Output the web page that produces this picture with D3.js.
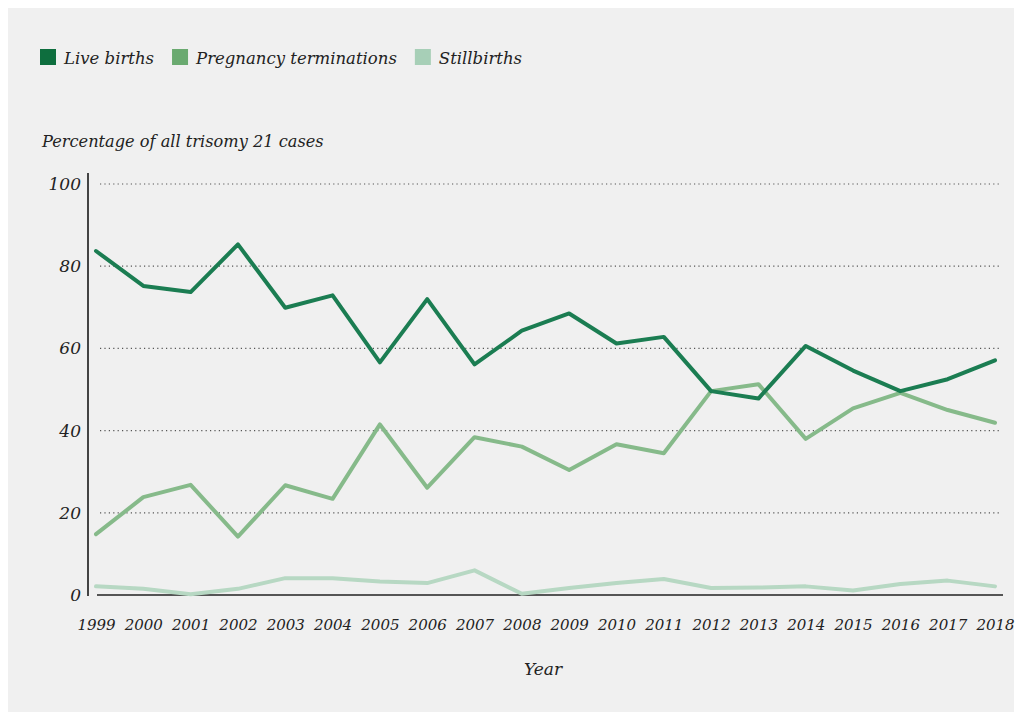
<!DOCTYPE html>
<html>
<head>
<meta charset="utf-8">
<script src="https://cdn.jsdelivr.net/npm/d3@7/dist/d3.min.js"></script>
<style>
  body { margin: 0; background: #ffffff; }
  text { font-family: "DejaVu Serif", serif; font-style: italic; fill: #222; }
</style>
</head>
<body>
<div id="chart"></div>
<script>
// Datos
const years = d3.range(1999, 2019);
const liveBirths = [83.7, 75.2, 73.7, 85.3, 69.9, 72.9, 56.6, 72.0, 56.1, 64.3, 68.5, 61.2, 62.8, 49.6, 47.8, 60.6, 54.6, 49.6, 52.5, 57.1];
const terminations = [14.8, 23.8, 26.8, 14.2, 26.7, 23.4, 41.5, 26.1, 38.4, 36.1, 30.4, 36.7, 34.5, 49.6, 51.3, 38.0, 45.4, 49.2, 45.0, 41.9];
const stillbirths = [2.1, 1.5, 0.2, 1.5, 4.1, 4.1, 3.3, 2.9, 6.0, 0.3, 1.7, 2.9, 3.9, 1.7, 1.8, 2.1, 1.1, 2.7, 3.5, 2.1];
const yTicks = [0, 20, 40, 60, 80, 100];

const series = [
  { name: 'Live births', values: liveBirths, swatch: '#0e6e3e', line: '#1b7d52' },
  { name: 'Pregnancy terminations', values: terminations, swatch: '#6aaa70', line: '#86ba8a' },
  { name: 'Stillbirths', values: stillbirths, swatch: '#a7cfb7', line: '#b7d8c3' }
];

const W = 1021, H = 718;
const margin = { top: 184, right: 26, bottom: 123, left: 96 };
const width = 995 - margin.left, height = 595 - margin.top;

const svg = d3.select('#chart').append('svg')
  .attr('width', W).attr('height', H);

// Fondo
svg.append('rect')
  .attr('x', 8).attr('y', 8)
  .attr('width', 1006).attr('height', 704)
  .attr('fill', '#f0f0f0');

// Leyenda
let lx = 40;
series.forEach(s => {
  svg.append('rect')
    .attr('x', lx).attr('y', 49)
    .attr('width', 16).attr('height', 16)
    .attr('fill', s.swatch);
  const t = svg.append('text')
    .attr('x', lx + 24).attr('y', 64)
    .attr('font-size', 16.5)
    .text(s.name);
  lx += 24 + t.node().getComputedTextLength() + 18;
});

// Título eje Y
svg.append('text')
  .attr('x', 42).attr('y', 147)
  .attr('font-size', 16.2)
  .text('Percentage of all trisomy 21 cases');

const g = svg.append('g')
  .attr('transform', 'translate(' + margin.left + ',' + margin.top + ')');

const x = d3.scalePoint()
  .domain(years)
  .range([0, width]);

const y = d3.scaleLinear()
  .domain([0, 100])
  .range([height, 0]);

// Rejilla
g.selectAll('.grid')
  .data(yTicks.filter(d => d > 0))
  .enter().append('line')
  .attr('x1', 4).attr('x2', width + 5)
  .attr('y1', d => y(d)).attr('y2', d => y(d))
  .attr('stroke', '#555')
  .attr('stroke-width', 1.2)
  .attr('stroke-dasharray', '1.2,3.2');

// Eje Y
const yAxis = g.append('g')
  .attr('transform', 'translate(-8,0)')
  .call(d3.axisLeft(y).tickValues(yTicks).tickSize(0).tickPadding(7));
yAxis.select('.domain').remove();
yAxis.selectAll('text')
  .attr('font-size', 17)
  .style('font-family', '"DejaVu Serif", serif')
  .style('font-style', 'italic')
  .attr('fill', '#222');
g.append('line')
  .attr('x1', -8).attr('x2', -8)
  .attr('y1', -11).attr('y2', height + 1)
  .attr('stroke', '#444').attr('stroke-width', 2);

// Eje X
const xAxis = g.append('g')
  .attr('transform', 'translate(0,' + height + ')')
  .call(d3.axisBottom(x).tickSize(0).tickPadding(24));
xAxis.select('.domain').remove();
xAxis.selectAll('text')
  .attr('font-size', 15)
  .style('font-family', '"DejaVu Serif", serif')
  .style('font-style', 'italic')
  .attr('fill', '#222');
g.append('line')
  .attr('x1', 1).attr('x2', width + 8)
  .attr('y1', height).attr('y2', height)
  .attr('stroke', '#222').attr('stroke-width', 1.5);

svg.append('text')
  .attr('x', 543).attr('y', 675)
  .attr('text-anchor', 'middle')
  .attr('font-size', 17)
  .text('Year');

// Líneas
const line = d3.line()
  .x((d, i) => x(years[i]))
  .y(d => y(d));

g.selectAll('.serie')
  .data(series.slice().reverse())
  .enter().append('path')
  .attr('d', d => line(d.values))
  .attr('fill', 'none')
  .attr('stroke', d => d.line)
  .attr('stroke-width', 4)
  .attr('stroke-linejoin', 'round')
  .attr('stroke-linecap', 'round');
</script>
</body>
</html>
